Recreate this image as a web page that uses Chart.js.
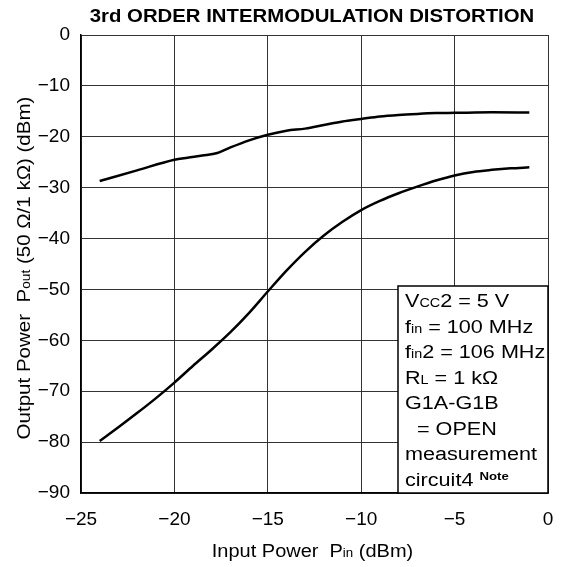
<!DOCTYPE html>
<html>
<head>
<meta charset="utf-8">
<script src="https://cdn.jsdelivr.net/npm/chart.js@4"></script>
<style>
  html, body { margin: 0; padding: 0; background: #fff; }
  #wrap { width: 563px; height: 567px; }
</style>
</head>
<body>
<div id="wrap"><canvas id="chart" width="563" height="567"></canvas></div>
<script>
// input power (dBm)
let pinUpper = [-24, -22, -20, -19.3, -18.5, -17.7, -17, -16, -15, -14, -13, -12, -11, -10, -9, -8, -7, -6, -5, -3, -1];
// fundamental output
let poutUpper = [-28.7, -26.6, -24.5, -24.1, -23.7, -23.2, -22.1, -20.7, -19.6, -18.8, -18.4, -17.7, -17.0, -16.5, -16.0, -15.7, -15.5, -15.35, -15.3, -15.2, -15.25];

let pinLower = [-24, -23, -22, -21, -20, -19, -18, -17, -16, -15, -14, -13, -12, -11, -10, -9, -8, -7, -6, -5, -4, -3, -2, -1];
// 3rd order IM product
let poutLower = [-79.8, -77.1, -74.3, -71.4, -68.3, -65.0, -61.8, -58.4, -54.6, -50.4, -46.3, -42.6, -39.4, -36.7, -34.4, -32.6, -31.1, -29.8, -28.6, -27.6, -26.9, -26.5, -26.2, -26.0];

let xTicks = [-25, -20, -15, -10, -5, 0];
let yTicks = [0, -10, -20, -30, -40, -50, -60, -70, -80, -90];

const FONT = '"Liberation Sans", Arial, Helvetica, sans-serif';

function toPoints(xs, ys) {
    let pts = [];
    for (var i = 0; i < xs.length; i++) {
        pts.push({x: xs[i], y: ys[i]});
    }
    return pts;
}

function fmt(v) {
    return v < 0 ? '\u2212' + Math.abs(v) : String(v);
}

// draw a line of mixed-size text, stretched horizontally by sx
function runsWidth(ctx, runs) {
    let w = 0;
    for (const r of runs) {
        ctx.font = (r.b ? 'bold ' : '') + (r.s || 18) + 'px ' + FONT;
        w += ctx.measureText(r.t).width;
    }
    return w;
}

function drawRuns(ctx, x, y, runs, sx, align) {
    let w = runsWidth(ctx, runs) * sx;
    let start = align === 'center' ? x - w / 2 : x;
    ctx.save();
    ctx.translate(start, y);
    ctx.scale(sx, 1);
    ctx.textBaseline = 'alphabetic';
    ctx.textAlign = 'left';
    ctx.fillStyle = '#000';
    let cx = 0;
    for (const r of runs) {
        ctx.font = (r.b ? 'bold ' : '') + (r.s || 18) + 'px ' + FONT;
        ctx.fillText(r.t, cx, r.dy || 0);
        cx += ctx.measureText(r.t).width;
    }
    ctx.restore();
}

const textPlugin = {
    id: 'texts',
    afterDraw(chart) {
        const ctx = chart.ctx;
        const a = chart.chartArea;

        drawRuns(ctx, 312, 22, [{t: '3rd ORDER INTERMODULATION DISTORTION', b: true}], 1.13, 'center');

        drawRuns(ctx, 312.5, 557, [
            {t: 'Input Power  P'}, {t: 'in', s: 12}, {t: ' (dBm)'}
        ], 1.11, 'center');

        ctx.save();
        ctx.translate(29.5, (a.top + a.bottom) / 2 + 4);
        ctx.rotate(-Math.PI / 2);
        drawRuns(ctx, 0, 0, [
            {t: 'Output Power  P'}, {t: 'out', s: 12}, {t: ' (50 \u03A9/1 k\u03A9) (dBm)'}
        ], 1.14, 'center');
        ctx.restore();

        // condition box
        const bw = 150, bh = 207;
        const bx = a.right - bw, by = a.bottom - bh;
        ctx.save();
        ctx.fillStyle = '#fff';
        ctx.fillRect(bx, by, bw, bh);
        ctx.strokeStyle = '#000';
        ctx.lineWidth = 1.5;
        ctx.strokeRect(bx, by, bw, bh);
        ctx.restore();

        const lines = [
            [{t: 'V'}, {t: 'CC', s: 12}, {t: '2 = 5 V'}],
            [{t: 'f'}, {t: 'in', s: 12}, {t: ' = 100 MHz'}],
            [{t: 'f'}, {t: 'in', s: 12}, {t: '2 = 106 MHz'}],
            [{t: 'R'}, {t: 'L', s: 12}, {t: ' = 1 k\u03A9'}],
            [{t: 'G1A-G1B'}],
            [{t: '  = OPEN'}],
            [{t: 'measurement'}],
            [{t: 'circuit4 '}, {t: 'Note', s: 11, b: true, dy: -6}]
        ];
        for (var i = 0; i < lines.length; i++) {
            drawRuns(ctx, bx + 7, by + 21 + i * 25.57, lines[i], 1.2, 'left');
        }
    }
};

function initChart() {
    const ctx = document.getElementById('chart').getContext('2d');
    return new Chart(ctx, {
        type: 'line',
        data: {
            datasets: [{
                data: toPoints(pinUpper, poutUpper),
                borderColor: '#000',
                borderWidth: 2.5,
                pointRadius: 0,
                cubicInterpolationMode: 'monotone',
                fill: false
            }, {
                data: toPoints(pinLower, poutLower),
                borderColor: '#000',
                borderWidth: 2.5,
                pointRadius: 0,
                cubicInterpolationMode: 'monotone',
                fill: false
            }]
        },
        options: {
            responsive: false,
            animation: false,
            layout: { padding: { top: 35, right: 15, left: 0, bottom: 0 } },
            plugins: {
                legend: { display: false },
                tooltip: { enabled: false }
            },
            scales: {
                x: {
                    type: 'linear',
                    min: -25,
                    max: 0,
                    afterFit(s) { s.height = 74; s.paddingLeft = 0; s.paddingRight = 0; },
                    afterBuildTicks(s) { s.ticks = xTicks.map(v => ({value: v})); },
                    grid: { color: '#333', lineWidth: 1, drawTicks: false },
                    border: { color: '#000', width: 1.5 },
                    ticks: {
                        padding: 15,
                        color: '#000',
                        font: { family: FONT, size: 19 },
                        maxRotation: 0,
                        callback: v => fmt(v)
                    }
                },
                y: {
                    min: -90,
                    max: 0,
                    afterFit(s) { s.width = 81; s.paddingTop = 0; s.paddingBottom = 0; },
                    afterBuildTicks(s) { s.ticks = yTicks.map(v => ({value: v})); },
                    grid: { color: '#333', lineWidth: 1, drawTicks: false },
                    border: { color: '#000', width: 1.5 },
                    ticks: {
                        padding: 11,
                        color: '#000',
                        font: { family: FONT, size: 19 },
                        callback: v => fmt(v)
                    }
                }
            }
        },
        plugins: [textPlugin]
    });
}

initChart();
</script>
</body>
</html>
